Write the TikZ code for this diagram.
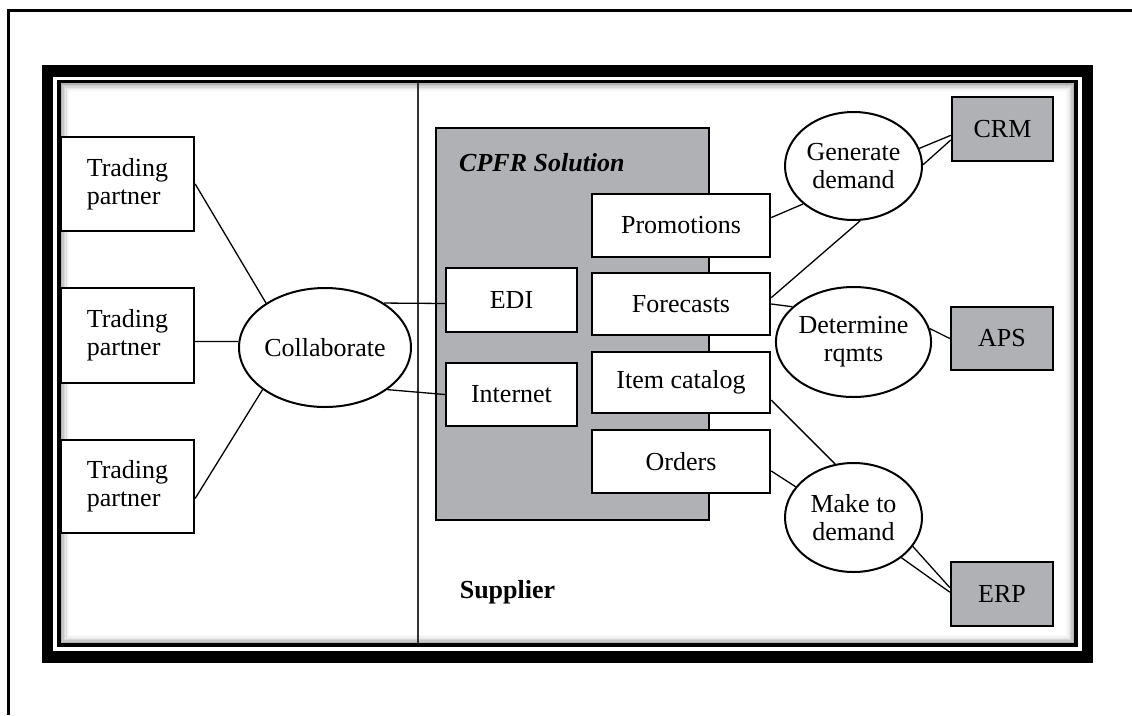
\documentclass[tikz,border=0pt]{standalone}
\usepackage{fontspec}
\setmainfont{Liberation Serif}
\usetikzlibrary{shapes.geometric}
\definecolor{panelgray}{RGB}{176,177,181}
\begin{document}
\begin{tikzpicture}[x=1pt,y=-1pt,
  every node/.style={font=\fontsize{26}{28}\selectfont, align=center, inner sep=0pt},
  whitebox/.style={rectangle, draw=black, line width=2.4pt, fill=white},
  sysbox/.style={rectangle, draw=black, line width=2.4pt, fill=panelgray},
  oval/.style={ellipse, draw=black, line width=2pt, fill=white},
  link/.style={line width=1.3pt},
  boldlabel/.style={font=\fontsize{26}{28}\selectfont\bfseries}]

\useasboundingbox (0,0) rectangle (1132,715);
\fill[white] (0,0) rectangle (1132,715);

% outer page rule
\draw[line width=2.8pt] (8.5,715) -- (8.5,10.5) -- (1132,10.5);

% heavy double frame
\draw[line width=11.5pt] (47.5,71) rectangle (1087.5,657);
\draw[line width=3.5pt] (59,81.5) rectangle (1076,645);

% soft inner shadow along the frame
\begin{scope}
  \clip (60.75,83.25) rectangle (1074.25,643.25);
  \foreach \d/\op in {0.8/0.30,2.2/0.22,3.6/0.15,5/0.09,6.4/0.05,7.8/0.02}
    \draw[line width=1.5pt, black, opacity=\op]
      (60.75+\d,83.25+\d) rectangle (1074.25-\d,643.25-\d);
\end{scope}

% partition between trading partners and supplier
\draw[line width=2pt, black!80] (417.5,83) -- (417.5,643);

% CPFR solution panel
\node[sysbox, minimum width=273pt, minimum height=392pt] (cpfr) at (572.5,324) {};
\node[anchor=west, font=\fontsize{26}{28}\selectfont\bfseries\itshape] (cpfrlabel) at (459,163) {CPFR Solution};

% trading partners
\node[whitebox, align=left, minimum width=133pt, minimum height=94pt] (tp1) at (127.5,184) {Trading\\partner};
\node[whitebox, align=left, minimum width=133pt, minimum height=95pt] (tp2) at (127.5,335.5) {Trading\\partner};
\node[whitebox, align=left, minimum width=133pt, minimum height=93pt] (tp3) at (127.5,486.5) {Trading\\partner};

\node[oval, minimum width=172pt, minimum height=119pt] (collab) at (325,347.5) {Collaborate};

% channels
\node[whitebox, minimum width=131pt, minimum height=64pt] (edi) at (511.5,300) {EDI};
\node[whitebox, minimum width=131pt, minimum height=63pt] (internet) at (511.5,394.5) {Internet};

% CPFR functions
\node[whitebox, minimum width=178pt, minimum height=63pt] (promo) at (681,225.5) {Promotions};
\node[whitebox, minimum width=178pt, minimum height=62pt] (fore) at (681,304) {Forecasts};
\node[whitebox, minimum width=178pt, minimum height=61pt] (item) at (681,382.5) {Item catalog};
\node[whitebox, minimum width=178pt, minimum height=63pt] (orders) at (681,461.5) {Orders};

% processes
\node[oval, minimum width=137pt, minimum height=108pt] (gen) at (853.5,166) {Generate\\demand};
\node[oval, minimum width=137pt, minimum height=110pt] (det) at (853.5,342) {Determine\\rqmts};
\node[oval, minimum width=137pt, minimum height=109pt] (make) at (853.5,517.5) {Make to\\demand};

% enterprise systems
\node[sysbox, minimum width=101pt, minimum height=64pt] (crm) at (1002.5,129) {CRM};
\node[sysbox, minimum width=102pt, minimum height=63pt] (aps) at (1002,338.5) {APS};
\node[sysbox, minimum width=102pt, minimum height=64pt] (erp) at (1002,594) {ERP};

\node[boldlabel] (supplier) at (507.5,592) {Supplier};

% connectors
\draw[link] (tp1.east) -- (collab.143);
\draw[link] (tp2.355) -- (collab.176);
\draw[link] (tp3.350) -- (collab.214);
\draw[link] (collab.37) -- (edi.183);
\draw[link] (collab.326) -- (internet.west);
\draw[link] (promo.5) -- (gen.217);
\draw[link] (fore.4) -- (gen.277);
\draw[link] (fore.east) -- (det.150);
\draw[link] (gen.15) -- (crm.187);
\draw[link] (gen.1) -- (crm.192);
\draw[link] (det.10) -- (aps.west);
\draw[link] (item.349) -- (make.109);
\draw[link] (orders.354) -- (make.152);
\draw[link] (make.334) -- (erp.173);
\draw[link] (make.320) -- (erp.178);
\end{tikzpicture}
\end{document}
